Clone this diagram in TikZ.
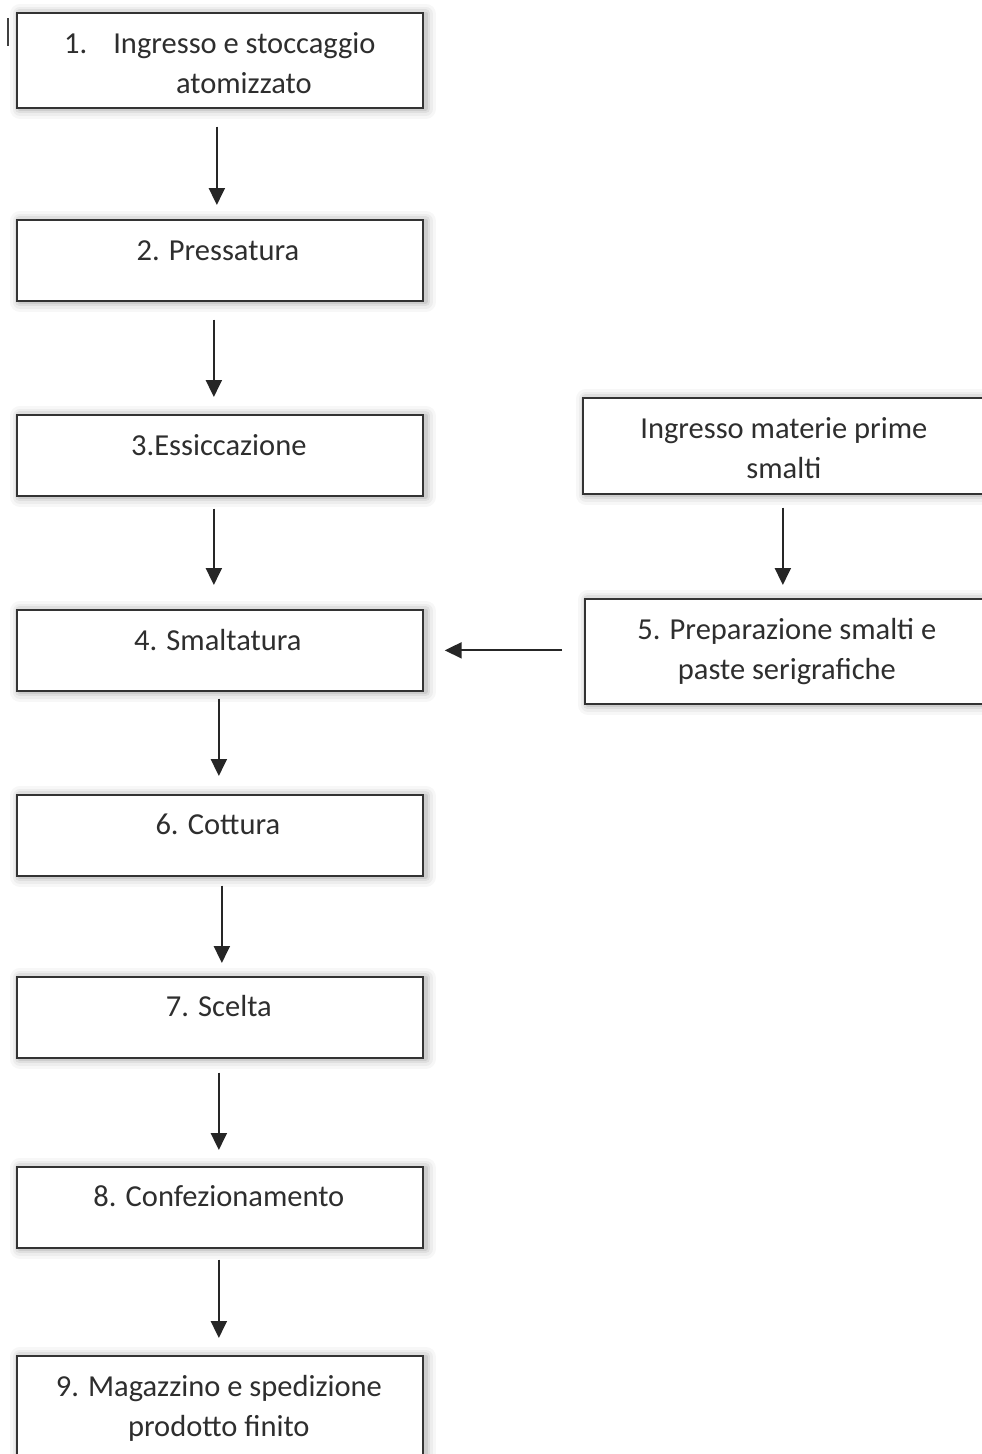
\documentclass[tikz,border=0pt]{standalone}
\usepackage{fontspec}
\setmainfont{Carlito}
\usetikzlibrary{arrows.meta,calc}
\definecolor{edge}{HTML}{333333}
\definecolor{ink}{HTML}{2E2E2E}
\tikzset{
  shd/.style 2 args={preaction={draw=black, draw opacity=#1, line width=#2, line join=round,
      transform canvas={shift={(3pt,-1pt)}}}},
  box/.style={draw=edge, line width=1.7pt, fill=white, rectangle, inner sep=0pt, anchor=north west,
    shd={0.03}{20pt}, shd={0.04}{14pt}, shd={0.06}{9pt}, shd={0.08}{4pt}},
  txt/.style={font=\fontsize{30.5pt}{40pt}\selectfont, text=ink, align=center, anchor=base, inner sep=0pt},
  arr/.style={draw=black!85, line width=2pt, -{Triangle[length=17pt,width=16pt]}}
}
\begin{document}
\begin{tikzpicture}[x=1pt,y=-1pt]
\useasboundingbox (0,0) rectangle (982,1454);
\clip (0,0) rectangle (982,1454);
\fill[white] (0,0) rectangle (982,1454);
% cursor mark
\draw[line width=1.5pt, black!75] (8,18) -- (8,46);
% boxes
\node[box, minimum width=406pt, minimum height=95pt] (b1) at (16,12) {};
\node[box, minimum width=406pt, minimum height=81pt] (b2) at (16,219) {};
\node[box, minimum width=406pt, minimum height=81pt] (b3) at (16,414) {};
\node[box, minimum width=406pt, minimum height=81pt] (b4) at (16,609) {};
\node[box, minimum width=406pt, minimum height=81pt] (b6) at (16,794) {};
\node[box, minimum width=406pt, minimum height=81pt] (b7) at (16,976) {};
\node[box, minimum width=406pt, minimum height=81pt] (b8) at (16,1166) {};
\node[box, minimum width=406pt, minimum height=130pt] (b9) at (16,1355) {};
\node[box, minimum width=402pt, minimum height=96pt] (r1) at (582,397) {};
\node[box, minimum width=404pt, minimum height=105pt] (b5) at (584,598) {};
% texts
\node[txt] (t1a) at ($(b1.north)+(0,41)$) {1.\hspace{26pt}Ingresso e stoccaggio};
\node[txt] (t1b) at ($(b1.north)+(24,81)$) {atomizzato};
\node[txt] (t2) at ($(b2.north)+(-2,41)$) {2. Pressatura};
\node[txt] (t3) at ($(b3.north)+(-1,41)$) {3.Essiccazione};
\node[txt] (t4) at ($(b4.north)+(-2,41)$) {4. Smaltatura};
\node[txt] (t6) at ($(b6.north)+(-2,40)$) {6. Cottura};
\node[txt] (t7) at ($(b7.north)+(-1,40)$) {7. Scelta};
\node[txt] (t8) at ($(b8.north)+(-1,40)$) {8. Confezionamento};
\node[txt] (t9a) at ($(b9.north)+(-1,41)$) {9. Magazzino e spedizione};
\node[txt] (t9b) at ($(b9.north)+(-1,81)$) {prodotto finito};
\node[txt] (tra) at ($(r1.north)+(0,41)$) {Ingresso materie prime};
\node[txt] (trb) at ($(r1.north)+(0,81)$) {smalti};
\node[txt] (t5a) at ($(b5.north)+(0,41)$) {5. Preparazione smalti e};
\node[txt] (t5b) at ($(b5.north)+(0,81)$) {paste serigrafiche};
% arrows
\draw[arr] ($(b1.south)+(-3,18)$) -- ($(b2.north)+(-3,-14)$);
\draw[arr] ($(b2.south)+(-6,18)$) -- ($(b3.north)+(-6,-17)$);
\draw[arr] ($(b3.south)+(-6,12)$) -- ($(b4.north)+(-6,-24)$);
\draw[arr] ($(b4.south)+(-1,7)$) -- ($(b6.north)+(-1,-18)$);
\draw[arr] ($(b6.south)+(2,9)$) -- ($(b7.north)+(2,-13)$);
\draw[arr] ($(b7.south)+(-1,14)$) -- ($(b8.north)+(-1,-16)$);
\draw[arr] ($(b8.south)+(-1,11)$) -- ($(b9.north)+(-1,-17)$);
\draw[arr] ($(r1.south)+(-1,13)$) -- ($(b5.north)+(-4,-13)$);
\draw[arr] ($(b5.west)+(-22,-1)$) -- ($(b4.east)+(21,0)$);
\end{tikzpicture}
\end{document}
